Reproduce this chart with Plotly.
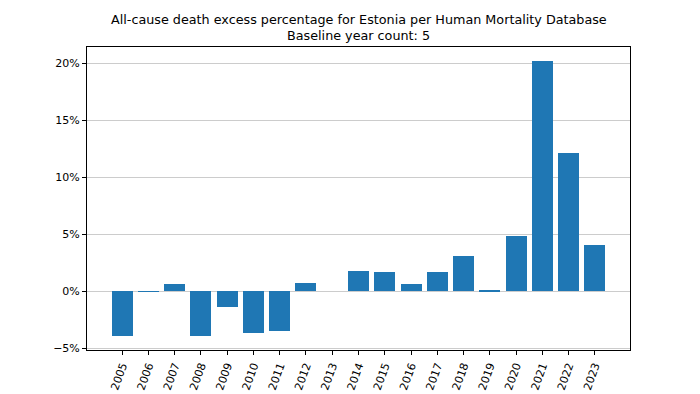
import plotly.graph_objects as go

years = ["2005", "2006", "2007", "2008", "2009", "2010", "2011", "2012", "2013", "2014",
         "2015", "2016", "2017", "2018", "2019", "2020", "2021", "2022", "2023"]
excess_pct = [-3.9, -0.02, 0.65, -3.93, -1.35, -3.65, -3.45, 0.74, 0.0, 1.77,
              1.73, 0.64, 1.70, 3.05, 0.12, 4.88, 20.2, 12.12, 4.06]
y_ticks = [-5, 0, 5, 10, 15, 20]
title_lines = ["All-cause death excess percentage for Estonia per Human Mortality Database",
               "Baseline year count: 5"]

fig = go.Figure(go.Bar(
    x=list(range(len(years))), y=excess_pct, width=0.8,
    marker=dict(color="#1f77b4", line=dict(width=0)),
))

fig.update_layout(
    width=700, height=394,
    margin=dict(l=79, r=78, t=39, b=52, autoexpand=False),
    paper_bgcolor="white", plot_bgcolor="white",
    font=dict(family="DejaVu Sans", size=11, color="black"),
    showlegend=False,
    bargap=0,
    annotations=[
        dict(text=title_lines[0], x=0.5, xref="paper", y=1, yref="paper", yanchor="bottom",
             yshift=18, showarrow=False, font=dict(size=12.75)),
        dict(text=title_lines[1], x=0.5, xref="paper", y=1, yref="paper", yanchor="bottom",
             yshift=2, showarrow=False, font=dict(size=12.75)),
    ],
)
fig.update_xaxes(range=[-1.34, 18 + 1.34], tickmode="array",
                 tickvals=list(range(len(years))), ticktext=years, tickangle=-70,
                 showline=True, mirror=True, linecolor="black", linewidth=1,
                 ticks="outside", ticklen=4, tickcolor="black", showgrid=False, zeroline=False)
fig.update_yaxes(range=[-5.15, 21.42], tickmode="array", tickvals=y_ticks,
                 ticktext=[("−" if v < 0 else "") + f"{abs(v)}%" for v in y_ticks],
                 showline=True, mirror=True, linecolor="black", linewidth=1,
                 ticks="outside", ticklen=4, tickcolor="black",
                 showgrid=True, gridcolor="#cccccc", gridwidth=1, zeroline=False)

fig.write_html("out.html")
